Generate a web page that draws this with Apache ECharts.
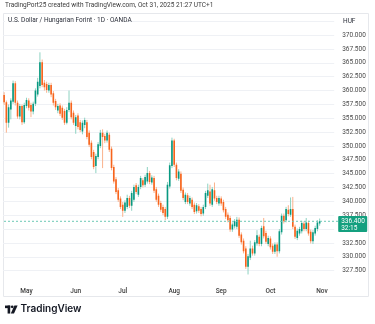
<!DOCTYPE html>
<html>
<head>
<meta charset="utf-8">
<script src="https://cdn.jsdelivr.net/npm/echarts@6/dist/echarts.min.js"></script>
<style>
  html, body { margin: 0; padding: 0; background: #ffffff; }
  #chart { width: 375px; height: 324px; }
</style>
</head>
<body>
<div id="chart"></div>
<script>
// USD/HUF daily candles (OANDA), 17 Apr 2025 - 31 Oct 2025, weekdays only
const firstDay = '2025-04-17';
const futureSlots = 6; // empty weekday slots to the right of the last candle

const opens = [
  359.2,357.9,354.2,356.6,358.0,361.3,357.8,355.3,357.2,354.3,
  357.2,358.2,357.4,356.2,357.6,359.3,360.8,365.1,361.4,361.2,
  360.0,361.0,359.5,358.1,356.4,357.3,356.9,356.3,354.2,356.5,
  357.8,356.0,353.6,355.5,354.3,352.6,353.8,354.3,352.4,350.6,
  348.9,346.4,348.0,350.0,352.4,351.8,351.0,352.0,349.5,346.2,
  344.0,342.0,340.5,339.4,338.3,339.0,340.6,339.2,340.3,342.9,
  341.2,342.6,343.8,343.0,343.6,345.1,343.4,344.2,342.2,341.0,
  339.7,339.0,338.6,337.2,342.7,346.4,351.0,346.6,344.1,345.0,
  342.1,339.9,341.1,339.6,340.3,339.4,338.2,339.1,338.6,337.8,
  339.0,341.0,341.8,339.4,342.0,340.6,339.6,340.5,339.9,338.6,
  337.6,337.0,334.9,335.5,335.4,336.7,334.0,332.9,331.5,328.2,
  329.8,331.5,330.6,332.4,333.6,332.3,335.5,334.3,332.3,333.3,
  332.0,330.9,332.2,331.0,334.4,337.4,336.6,338.5,337.6,338.6,
  335.4,333.4,334.2,334.6,336.0,335.0,336.1,334.5,332.8,334.2,
  335.0,336.0
];
const closes = [
  357.9,354.2,357.0,358.2,361.3,357.8,355.3,357.2,354.3,357.4,
  358.3,356.9,356.2,357.6,360.0,361.6,365.1,361.0,360.6,360.1,
  361.0,359.3,357.8,357.0,357.2,355.8,355.1,354.2,356.5,357.8,
  355.2,354.2,355.2,353.4,352.9,354.2,354.7,351.6,350.2,348.0,
  346.2,348.2,350.3,352.4,351.6,351.0,352.4,349.3,346.0,343.6,
  341.7,340.3,339.0,338.3,339.8,340.6,339.2,341.5,342.6,341.7,
  342.6,344.2,342.9,344.4,345.1,343.5,344.3,341.9,340.3,339.4,
  338.5,337.9,337.2,343.0,346.5,351.0,346.6,344.2,345.4,341.9,
  340.6,341.2,339.9,340.6,339.0,338.1,339.3,338.3,337.7,339.0,
  341.5,342.0,339.6,342.2,340.5,339.9,340.6,339.6,338.4,337.2,
  336.6,334.9,335.8,336.4,336.7,333.8,332.6,331.0,328.2,330.1,
  331.5,330.6,332.6,333.9,332.3,335.2,333.7,332.7,333.4,331.7,
  330.9,332.2,331.0,334.6,337.4,336.4,338.6,337.7,338.6,335.4,
  333.6,334.7,335.0,336.1,335.0,336.2,334.2,332.8,334.4,335.2,
  336.2,336.4
];
const lows = [
  357.4,352.4,353.3,354.8,357.6,357.3,354.9,354.8,353.8,354.0,
  356.8,356.4,355.2,355.7,357.2,358.9,360.4,360.6,360.0,359.6,
  359.6,358.8,357.3,356.5,355.9,355.4,354.7,353.8,353.9,356.1,
  354.8,353.8,352.2,353.0,352.5,352.1,353.2,351.2,349.8,347.6,
  345.8,345.1,347.6,349.6,346.0,350.5,350.6,348.9,345.6,343.2,
  341.3,339.9,338.6,337.2,337.9,338.6,338.8,338.3,339.9,341.3,
  340.8,342.2,342.5,342.6,343.2,343.1,343.0,341.5,339.9,339.0,
  338.1,337.5,336.6,336.8,342.3,346.0,346.2,343.8,343.7,341.5,
  340.2,339.5,339.5,339.2,338.6,337.7,337.8,337.9,337.3,337.4,
  338.6,340.6,339.2,339.0,340.1,339.5,339.2,339.2,338.0,336.8,
  336.2,334.5,334.5,335.1,335.0,333.4,332.2,330.6,327.8,326.8,
  329.4,330.2,330.2,332.0,331.9,331.9,333.3,332.3,331.9,331.3,
  330.5,330.5,330.0,330.6,334.0,336.0,336.2,337.3,337.2,335.0,
  333.2,333.0,333.8,334.2,334.6,334.6,333.8,332.4,332.3,333.8,
  334.6,335.6
];
const highs = [
  359.7,358.2,357.5,358.6,361.8,361.7,358.2,357.6,357.5,357.8,
  358.7,358.6,357.8,358.0,360.4,362.3,366.9,365.6,361.9,361.6,
  361.4,361.4,359.9,358.5,357.6,357.7,357.3,356.7,357.0,360.0,
  358.2,356.4,355.6,355.9,354.7,354.6,355.1,354.7,352.8,351.0,
  349.3,348.6,350.7,352.9,353.0,352.2,352.8,352.4,349.9,346.6,
  344.4,342.4,340.9,339.9,340.2,341.2,341.0,341.9,343.0,343.3,
  343.0,344.6,344.2,344.8,346.2,345.5,344.7,344.6,342.6,341.4,
  340.1,339.4,339.0,343.5,347.0,351.5,351.3,347.0,345.8,345.4,
  342.5,341.6,341.5,341.0,340.7,339.8,339.7,339.5,339.0,339.4,
  341.9,343.2,343.0,342.6,343.4,341.0,341.0,340.9,340.3,339.0,
  338.0,337.4,336.2,336.8,337.2,337.1,334.4,333.3,331.9,330.5,
  332.9,332.0,333.0,334.8,334.0,335.6,337.0,334.7,333.8,333.7,
  332.4,332.6,332.6,335.0,337.8,337.8,339.0,339.3,340.7,340.8,
  335.8,335.1,335.4,336.5,336.4,337.0,336.5,334.9,334.8,335.6,
  336.6,336.9
];

const monthLabels = ['Jan','Feb','Mar','Apr','May','Jun','Jul','Aug','Sep','Oct','Nov','Dec'];
const yMin = 325, yMax = 375, yStep = 2.5;
const hiddenTicks = [325, 335, 372.5, 375]; // covered by the header / price tag
const countdown = '32:15';
const headerText = 'TradingPort25 created with TradingView.com, Oct 31, 2025 21:27 UTC+1';
const symbolTitle = 'U.S. Dollar / Hungarian Forint · 1D · OANDA';
const currency = 'HUF';

// weekday calendar for the category axis
const dates = [];
{
  const d = new Date(firstDay + 'T00:00:00Z');
  while (dates.length < opens.length + futureSlots) {
    const wd = d.getUTCDay();
    if (wd !== 0 && wd !== 6) dates.push(new Date(d.getTime()));
    d.setUTCDate(d.getUTCDate() + 1);
  }
}
const categories = dates.map(d => d.toISOString().slice(0, 10));
const isMonthStart = i => i > 0 && dates[i].getUTCMonth() !== dates[i - 1].getUTCMonth();

const ohlc = opens.map((o, i) => [i, o, closes[i], lows[i], highs[i]]);
const lastIndex = closes.length - 1;
const lastClose = closes[lastIndex];

const UP = '#089981', DOWN = '#f7641c';
const UP_WICK = '#8ed2c2', DOWN_WICK = '#fab28c';
const PRICE_LINE = '#6cc8b5';
const TAG_FILL = '#14a07f';
const FONT = 'Roboto, "Noto Sans", sans-serif';

const chart = echarts.init(document.getElementById('chart'), null, { renderer: 'canvas' });

chart.setOption({
  animation: false,
  backgroundColor: '#ffffff',
  grid: { left: 3, right: 40.8, top: 7.45, bottom: 39.55, containLabel: false },
  xAxis: {
    type: 'category',
    data: categories,
    boundaryGap: true,
    axisLine: { show: false },
    axisTick: { show: false },
    splitLine: { show: false },
    axisLabel: {
      interval: (i) => isMonthStart(i),
      formatter: (v) => monthLabels[new Date(v + 'T00:00:00Z').getUTCMonth()],
      color: '#3d3d3d',
      fontSize: 6.5,
      fontWeight: 500,
      fontFamily: FONT,
      margin: 3
    }
  },
  yAxis: {
    type: 'value',
    position: 'right',
    min: yMin,
    max: yMax,
    interval: yStep,
    axisLine: { show: false },
    axisTick: { show: false },
    splitLine: {
      show: true,
      showMinLine: false,
      showMaxLine: false,
      lineStyle: { color: '#eff1f5', width: 1 }
    },
    axisLabel: {
      showMinLabel: false,
      showMaxLabel: false,
      color: '#4a4a4a',
      fontSize: 6.5,
      fontFamily: FONT,
      margin: 8,
      formatter: (v) => hiddenTicks.some(t => Math.abs(t - v) < 1e-6) ? '' : v.toFixed(3)
    }
  },
  series: [
    {
      type: 'custom',
      name: 'USDHUF',
      data: ohlc,
      encode: { x: 0, y: [1, 2, 3, 4] },
      clip: true,
      renderItem: (params, api) => {
        const i = api.value(0);
        const o = api.value(1), c = api.value(2), l = api.value(3), h = api.value(4);
        const pO = api.coord([i, o]);
        const pC = api.coord([i, c]);
        const pL = api.coord([i, l]);
        const pH = api.coord([i, h]);
        const bw = api.size([1, 0])[0] * 0.72;
        const up = c >= o;
        const top = Math.min(pO[1], pC[1]);
        const hgt = Math.max(Math.abs(pO[1] - pC[1]), 0.9);
        return {
          type: 'group',
          children: [
            {
              type: 'line',
              shape: { x1: pO[0], y1: pH[1], x2: pO[0], y2: pL[1] },
              style: { stroke: up ? UP_WICK : DOWN_WICK, lineWidth: 1 }
            },
            {
              type: 'rect',
              shape: { x: pO[0] - bw / 2, y: top, width: bw, height: hgt },
              style: { fill: up ? UP : DOWN }
            }
          ]
        };
      },
      z: 3
    },
    {
      // last-price line with its tag on the price scale
      type: 'custom',
      name: 'last',
      data: [[lastIndex, lastClose]],
      encode: { x: 0, y: 1 },
      clip: false,
      silent: true,
      renderItem: (params, api) => {
        const cs = params.coordSys;
        const py = api.coord([api.value(0), api.value(1)])[1];
        const tagX = cs.x + cs.width + 4;
        return {
          type: 'group',
          children: [
            {
              type: 'line',
              shape: { x1: cs.x + 1, y1: py, x2: cs.x + cs.width + 4, y2: py },
              style: { stroke: PRICE_LINE, lineWidth: 1, lineDash: [2, 2] }
            },
            {
              type: 'rect',
              shape: { x: tagX, y: py - 5.2, width: 29, height: 16, r: 1 },
              style: { fill: TAG_FILL }
            },
            {
              type: 'text',
              style: {
                x: tagX + 3, y: py - 4, text: api.value(1).toFixed(3) + '\n' + countdown,
                fill: '#ffffff', font: '6.5px ' + FONT, lineHeight: 7.5,
                verticalAlign: 'top', align: 'left'
              }
            }
          ]
        };
      },
      z: 5
    }
  ],
  graphic: [
    {
      type: 'text', left: 5, top: 1.5, silent: true,
      style: { text: headerText, fill: '#3a3a3a', font: '6.5px ' + FONT }
    },
    {
      type: 'rect', silent: true, z: -1,
      shape: { x: 3.5, y: 13.5, width: 365, height: 283 },
      style: { fill: 'none', stroke: '#e6e8ec', lineWidth: 1 }
    },
    {
      type: 'rect', silent: true, z: 10,
      shape: { x: 5, y: 15, width: 123, height: 11 },
      style: { fill: '#ffffff' }
    },
    {
      type: 'text', left: 8, top: 17, silent: true, z: 11,
      style: { text: symbolTitle, fill: '#2a2e39', font: '6.5px ' + FONT }
    },
    {
      type: 'rect', silent: true, z: 10,
      shape: { x: 336, y: 14, width: 32, height: 14 },
      style: { fill: '#ffffff' }
    },
    {
      type: 'text', left: 343, top: 17.5, silent: true, z: 11,
      style: { text: currency, fill: '#2a2e39', font: '6.5px ' + FONT }
    },
    // TradingView mark
    {
      type: 'group', left: 5, top: 305.5, silent: true,
      children: [
        { type: 'rect', shape: { x: 0, y: 0, width: 5.2, height: 2.6 }, style: { fill: '#131722' } },
        { type: 'rect', shape: { x: 2.6, y: 0, width: 2.6, height: 8 }, style: { fill: '#131722' } },
        { type: 'circle', shape: { cx: 7.2, cy: 1.3, r: 1.35 }, style: { fill: '#131722' } },
        { type: 'polygon', shape: { points: [[9.4, 0], [12.6, 0], [9.0, 8], [5.8, 8]] }, style: { fill: '#131722' } }
      ]
    },
    {
      type: 'text', left: 20.5, top: 303.5, silent: true,
      style: { text: 'TradingView', fill: '#131722', font: '600 10px Inter, Roboto, sans-serif' }
    }
  ]
});
</script>
</body>
</html>
